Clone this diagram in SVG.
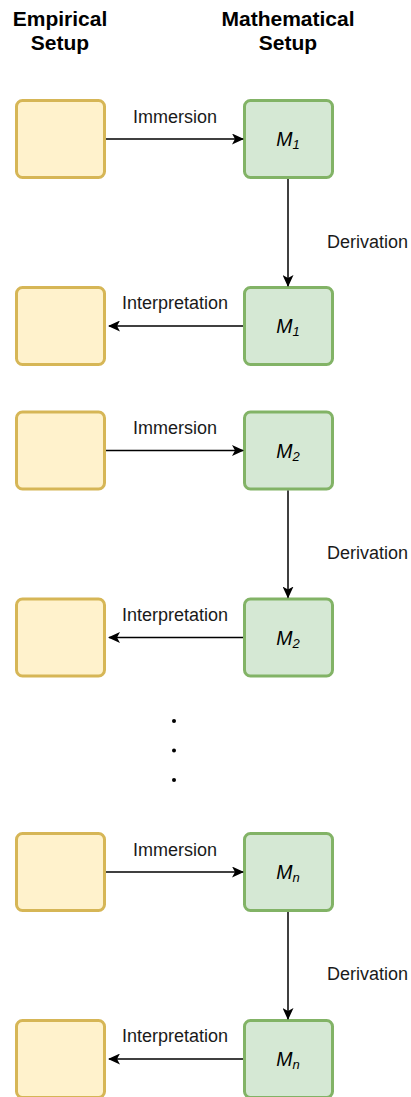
<svg xmlns="http://www.w3.org/2000/svg" width="411" height="1097" viewBox="0 0 411 1097">
<style>
.emp{fill:#fff2cc;stroke:#d6b656;stroke-width:3}
.mat{fill:#d5e8d4;stroke:#82b366;stroke-width:3}
.hdr{font-family:"Liberation Sans",Arial,sans-serif;font-weight:bold;font-size:21px;fill:#000;text-anchor:middle}
.lbl{font-family:"Liberation Sans",Arial,sans-serif;font-size:18px;fill:#1a1a1a}
.m{font-family:"Liberation Sans",Arial,sans-serif;font-size:19.5px;font-style:italic;fill:#000;text-anchor:middle}
.sub{font-size:13px}
.edge{stroke:#000;stroke-width:1.5;fill:none;marker-end:url(#arr)}
</style>
<defs>
<marker id="arr" viewBox="0 0 12 11" refX="11" refY="5.5" markerWidth="12" markerHeight="11" markerUnits="userSpaceOnUse" orient="auto">
<path d="M0,0 L12,5.5 L0,11 L3,5.5 Z" fill="#000"/>
</marker>
</defs>
<g id="headers">
<text class="hdr" x="60" y="26">Empirical</text>
<text class="hdr" x="60" y="50">Setup</text>
<text class="hdr" x="288" y="26">Mathematical</text>
<text class="hdr" x="288" y="50">Setup</text>
</g>
<g id="e1"><rect class="emp" x="16.5" y="100.5" width="88" height="77" rx="6"/></g>
<g id="m1"><rect class="mat" x="244.5" y="100.5" width="88" height="77" rx="6"/><text class="m" x="288" y="146">M<tspan class="sub" dy="3">1</tspan></text></g>
<g id="e2"><rect class="emp" x="16.5" y="287.5" width="88" height="77" rx="6"/></g>
<g id="m1b"><rect class="mat" x="244.5" y="287.5" width="88" height="77" rx="6"/><text class="m" x="288" y="333">M<tspan class="sub" dy="3">1</tspan></text></g>
<g id="e3"><rect class="emp" x="16.5" y="412" width="88" height="77" rx="6"/></g>
<g id="m2"><rect class="mat" x="244.5" y="412" width="88" height="77" rx="6"/><text class="m" x="288" y="457.5">M<tspan class="sub" dy="3">2</tspan></text></g>
<g id="e4"><rect class="emp" x="16.5" y="599" width="88" height="77" rx="6"/></g>
<g id="m2b"><rect class="mat" x="244.5" y="599" width="88" height="77" rx="6"/><text class="m" x="288" y="644.5">M<tspan class="sub" dy="3">2</tspan></text></g>
<g id="e5"><rect class="emp" x="16.5" y="833.5" width="88" height="77" rx="6"/></g>
<g id="mn"><rect class="mat" x="244.5" y="833.5" width="88" height="77" rx="6"/><text class="m" x="288" y="879">M<tspan class="sub" dy="3">n</tspan></text></g>
<g id="e6"><rect class="emp" x="16.5" y="1020.5" width="88" height="77" rx="6"/></g>
<g id="mnb"><rect class="mat" x="244.5" y="1020.5" width="88" height="77" rx="6"/><text class="m" x="288" y="1066">M<tspan class="sub" dy="3">n</tspan></text></g>
<g id="ellipsis">
<circle cx="174" cy="721" r="2" fill="#000"/>
<circle cx="174" cy="750.5" r="2" fill="#000"/>
<circle cx="174" cy="780" r="2" fill="#000"/>
</g>
<g id="connectors">
<path class="edge" d="M106,139 L243,139"/>
<text class="lbl" x="175" y="122.5" text-anchor="middle">Immersion</text>
<path class="edge" d="M288,179 L288,286"/>
<text class="lbl" x="327" y="248">Derivation</text>
<path class="edge" d="M243,326 L109,326"/>
<text class="lbl" x="175" y="309" text-anchor="middle">Interpretation</text>

<path class="edge" d="M106,450.5 L243,450.5"/>
<text class="lbl" x="175" y="434" text-anchor="middle">Immersion</text>
<path class="edge" d="M288,490.5 L288,597.5"/>
<text class="lbl" x="327" y="558.5">Derivation</text>
<path class="edge" d="M243,637.5 L109,637.5"/>
<text class="lbl" x="175" y="620.5" text-anchor="middle">Interpretation</text>

<path class="edge" d="M106,872 L243,872"/>
<text class="lbl" x="175" y="855.5" text-anchor="middle">Immersion</text>
<path class="edge" d="M288,912 L288,1019"/>
<text class="lbl" x="327" y="979.5">Derivation</text>
<path class="edge" d="M243,1059 L109,1059"/>
<text class="lbl" x="175" y="1042" text-anchor="middle">Interpretation</text>
</g>
</svg>
